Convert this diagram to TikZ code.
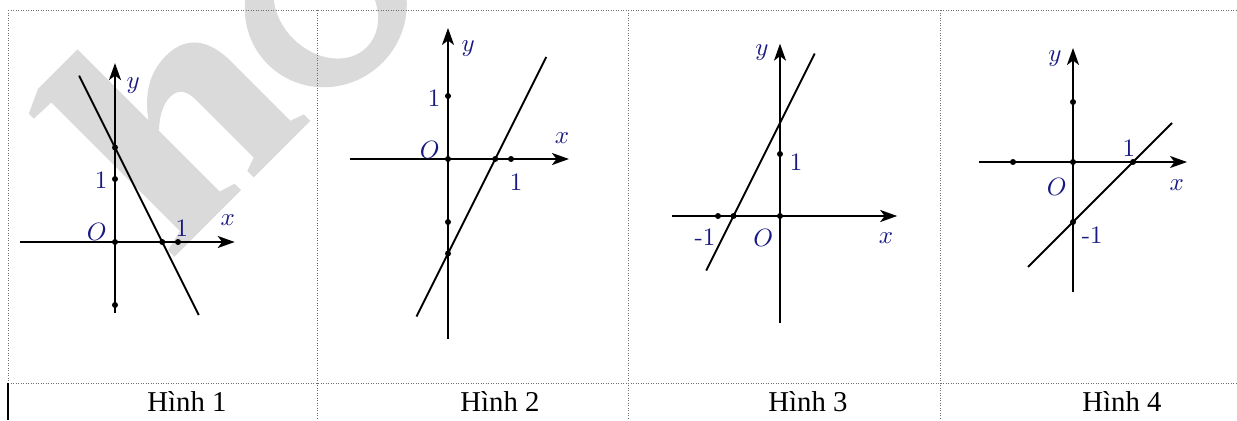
\documentclass[tikz,border=0pt]{standalone}
\usepackage{fontspec}
\newfontfamily\serifT{Liberation Serif}
\usetikzlibrary{arrows.meta}
\definecolor{lblue}{RGB}{25,25,130}
\definecolor{wmgray}{RGB}{218,218,218}
\definecolor{tblgray}{RGB}{110,110,110}
\begin{document}
\begin{tikzpicture}[x=0.4pt,y=-0.4pt,
  axis/.style={line width=0.85pt, -{Stealth[length=6.8pt,width=4.8pt,inset=1.8pt]}},
  graph/.style={line width=0.75pt},
  dot/.style={circle, fill=black, inner sep=0pt, minimum size=2.4pt},
  lbl/.style={text=lblue, font=\fontsize{10}{12}\selectfont, inner sep=0pt},
  tbl/.style={draw=tblgray, line width=0.4pt, dash pattern=on 0.5pt off 0.5pt},
  captxt/.style={font=\serifT\fontsize{11.5}{13}\selectfont, inner sep=0pt, anchor=base},
  wmfill/.style={fill=wmgray, draw=none}
]
\useasboundingbox (0,0) rectangle (1237,420);
\fill[white] (0,0) rectangle (1237,420);
% watermark shapes (large grey letters, drawn as plain shapes)
\begin{scope}
\clip (0,0) rectangle (1237,420);
\begin{scope}[shift={(190,241)}, rotate=45, x=0.4pt, y=0.4pt]
  % stem with serifs
  \path[wmfill] (-22,0) -- (72,0) -- (72,9) -- (56,14) -- (56,215)
     -- (0,215) -- (-24,204) -- (-24,197) -- (0,196) -- (0,14) -- (-22,9) -- cycle;
  % arch and right leg
  \path[wmfill] (54,112) .. controls (72,138) and (92,148) .. (114,148)
     .. controls (142,148) and (156,130) .. (156,98) -- (156,14) -- (170,9) -- (170,0)
     -- (90,0) -- (90,9) -- (104,14) -- (104,96)
     .. controls (104,110) and (98,116) .. (88,116)
     .. controls (76,116) and (64,108) .. (54,98) -- cycle;
  % o
  \path[wmfill, even odd rule] (262,70) ellipse [x radius=82, y radius=80]
     (262,70) ellipse [x radius=46, y radius=58];
\end{scope}
\end{scope}
% table
\coordinate (tl) at (8,10); \coordinate (tr) at (1237,10);
\coordinate (ml) at (8,383); \coordinate (mr) at (1237,383);
\coordinate (bl) at (8,420);
\draw[tbl] (tl) -- (tr);
\draw[tbl] (ml) -- (mr);
\draw[tbl] (tl) -- (ml);
\draw[line width=0.6pt] (ml) -- (bl);
\foreach \cx [count=\i] in {317,628,940}{
  \coordinate (vt\i) at (\cx,10); \coordinate (vb\i) at (\cx,420);
  \draw[tbl] (vt\i) -- (vb\i);
}
% captions
\node[captxt] (c1) at (187,411) {Hình 1};
\node[captxt] (c2) at (500,411) {Hình 2};
\node[captxt] (c3) at (808,411) {Hình 3};
\node[captxt] (c4) at (1122,411) {Hình 4};

% ---------- Hinh 1 ----------
\begin{scope}[shift={(115,242)}, x=25.2pt, y=25.2pt]
\coordinate (xa1) at (-1.51,0); \coordinate (xb1) at (1.9,0);
\coordinate (ya1) at (0,-1.13); \coordinate (yb1) at (0,2.84);
\draw[axis] (xa1) -- (xb1);
\draw[axis] (ya1) -- (yb1);
\coordinate (la1) at (-0.57,2.64); \coordinate (lb1) at (1.33,-1.16);
\draw[graph] (la1) -- (lb1);
\node[dot] (d1a) at (0,1.5) {};
\node[dot] (d1b) at (0,1) {};
\node[dot] (d1c) at (0,0) {};
\node[dot] (d1d) at (0,-1) {};
\node[dot] (d1e) at (0.75,0) {};
\node[dot] (d1f) at (1,0) {};
\node[lbl] (y1) at (0.29,2.49) {$y$};
\node[lbl] (one1a) at (-0.22,0.98) {1};
\node[lbl] (o1) at (-0.29,0.16) {$O$};
\node[lbl] (one1b) at (1.06,0.22) {1};
\node[lbl] (x1) at (1.79,0.35) {$x$};
\end{scope}

% ---------- Hinh 2 ----------
\begin{scope}[shift={(448,159)}, x=25.2pt, y=25.2pt]
\coordinate (xa2) at (-1.56,0); \coordinate (xb2) at (1.92,0);
\coordinate (ya2) at (0,-2.86); \coordinate (yb2) at (0,2.08);
\draw[axis] (xa2) -- (xb2);
\draw[axis] (ya2) -- (yb2);
\coordinate (la2) at (-0.5,-2.5); \coordinate (lb2) at (1.56,1.62);
\draw[graph] (la2) -- (lb2);
\node[dot] (d2a) at (0,1) {};
\node[dot] (d2b) at (0,0) {};
\node[dot] (d2c) at (0,-1) {};
\node[dot] (d2d) at (0,-1.5) {};
\node[dot] (d2e) at (0.75,0) {};
\node[dot] (d2f) at (1,0) {};
\node[lbl] (y2) at (0.32,1.75) {$y$};
\node[lbl] (one2a) at (-0.22,0.97) {1};
\node[lbl] (o2) at (-0.29,0.14) {$O$};
\node[lbl] (x2) at (1.81,0.33) {$x$};
\node[lbl] (one2b) at (1.08,-0.37) {1};
\end{scope}

% ---------- Hinh 3 ----------
\begin{scope}[shift={(780,216)}, x=24.8pt, y=24.8pt]
\coordinate (xa3) at (-1.74,0); \coordinate (xb3) at (1.89,0);
\coordinate (ya3) at (0,-1.72); \coordinate (yb3) at (0,2.78);
\draw[axis] (xa3) -- (xb3);
\draw[axis] (ya3) -- (yb3);
\coordinate (la3) at (-1.19,-0.88); \coordinate (lb3) at (0.56,2.62);
\draw[graph] (la3) -- (lb3);
\node[dot] (d3a) at (0,1) {};
\node[dot] (d3b) at (0,0) {};
\node[dot] (d3c) at (-1,0) {};
\node[dot] (d3d) at (-0.75,0) {};
\node[lbl] (y3) at (-0.29,2.63) {$y$};
\node[lbl] (one3) at (0.26,0.87) {1};
\node[lbl] (m3) at (-1.21,-0.34) {-1};
\node[lbl] (o3) at (-0.27,-0.35) {$O$};
\node[lbl] (x3) at (1.71,-0.35) {$x$};
\end{scope}

% ---------- Hinh 4 ----------
\begin{scope}[shift={(1073,162)}, x=24pt, y=24pt]
\coordinate (xa4) at (-1.57,0); \coordinate (xb4) at (1.9,0);
\coordinate (ya4) at (0,-2.17); \coordinate (yb4) at (0,1.9);
\draw[axis] (xa4) -- (xb4);
\draw[axis] (ya4) -- (yb4);
\coordinate (la4) at (-0.75,-1.75); \coordinate (lb4) at (1.65,0.65);
\draw[graph] (la4) -- (lb4);
\node[dot] (d4a) at (0,1) {};
\node[dot] (d4b) at (0,0) {};
\node[dot] (d4c) at (-1,0) {};
\node[dot] (d4d) at (1,0) {};
\node[dot] (d4e) at (0,-1) {};
\node[lbl] (y4) at (-0.3,1.73) {$y$};
\node[lbl] (one4) at (0.93,0.23) {1};
\node[lbl] (o4) at (-0.27,-0.42) {$O$};
\node[lbl] (x4) at (1.73,-0.38) {$x$};
\node[lbl] (m4) at (0.32,-1.22) {-1};
\end{scope}
\end{tikzpicture}
\end{document}
